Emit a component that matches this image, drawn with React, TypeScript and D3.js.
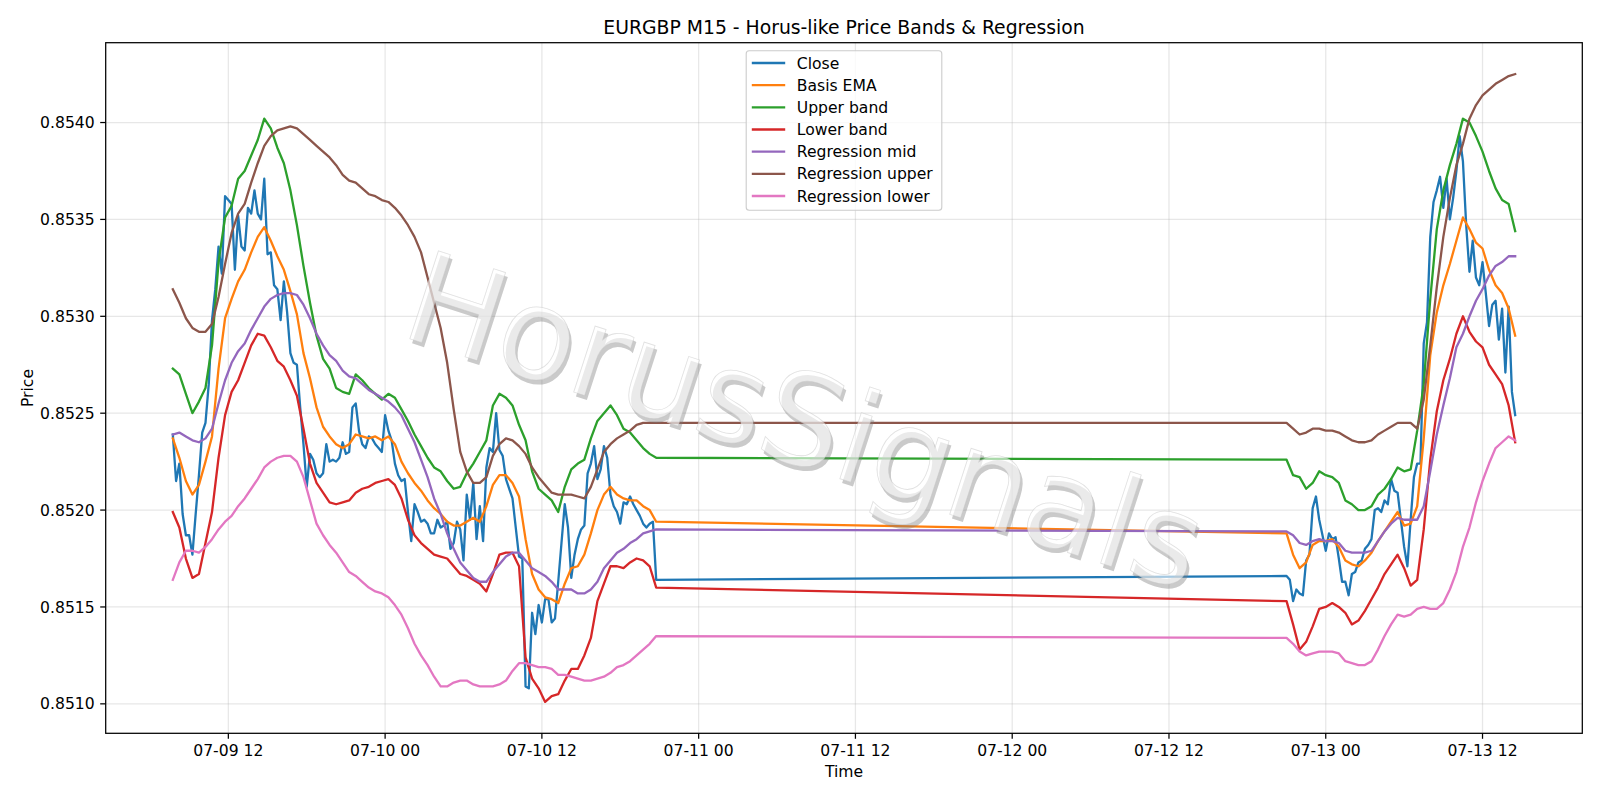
import React from "react";
import * as d3 from "d3";

const TITLE = "EURGBP M15 - Horus-like Price Bands & Regression";
const X_LABEL = "Time";
const Y_LABEL = "Price";
const WATERMARK = "HorusSignals";

// two trading sessions (before / after the weekend gap)
const SESSION_STARTS = ["2020-07-09T07:45:00Z", "2020-07-12T21:00:00Z"];
const CLOSE_STEP_MIN = 15;
const BAND_STEP_MIN = 30;

const X_TICKS = [
  "2020-07-09T12:00:00Z", "2020-07-10T00:00:00Z", "2020-07-10T12:00:00Z",
  "2020-07-11T00:00:00Z", "2020-07-11T12:00:00Z", "2020-07-12T00:00:00Z",
  "2020-07-12T12:00:00Z", "2020-07-13T00:00:00Z", "2020-07-13T12:00:00Z",
];
const Y_TICKS = [0.851, 0.8515, 0.852, 0.8525, 0.853, 0.8535, 0.854];

const CLOSE_PRE = [
  0.85239, 0.85215, 0.85224, 0.85198, 0.85187, 0.85187, 0.85177, 0.85198, 0.85218, 0.85240,
  0.85245, 0.85265, 0.85298, 0.85314, 0.85336, 0.85322, 0.85362, 0.85360, 0.85358, 0.85324,
  0.85352, 0.85336, 0.85334, 0.85356, 0.85353, 0.85365, 0.85353, 0.85350, 0.85371, 0.85332,
  0.85333, 0.85316, 0.85314, 0.85298, 0.85318, 0.85302, 0.85281, 0.85276, 0.85275, 0.85253,
  0.85234, 0.85212, 0.85229, 0.85226, 0.85219, 0.85217, 0.85219, 0.85234, 0.85225, 0.85226,
  0.85225, 0.85227, 0.85235, 0.85229, 0.85230, 0.85253, 0.85255, 0.85241, 0.85234, 0.85232,
  0.85238, 0.85237, 0.85234, 0.85232, 0.85230, 0.85249, 0.85241, 0.85236, 0.85224, 0.85218,
  0.85215, 0.85216, 0.85199, 0.85184, 0.85203, 0.85199, 0.85194, 0.85195, 0.85193, 0.85188,
  0.85188, 0.85195, 0.85191, 0.85192, 0.85194, 0.85180, 0.85183, 0.85194, 0.85190, 0.85174,
  0.85208, 0.85195, 0.85214, 0.85185, 0.85202, 0.85184, 0.85222, 0.85232, 0.85230, 0.85250,
  0.85231, 0.85228, 0.85216, 0.85211, 0.85206, 0.85191, 0.85176, 0.85175, 0.85109, 0.85108,
  0.85147, 0.85136, 0.85151, 0.85142, 0.85154, 0.85154, 0.85142, 0.85144, 0.85163, 0.85183,
  0.85203, 0.85191, 0.85165, 0.85177, 0.85185, 0.85190, 0.85192, 0.85219, 0.85224, 0.85233,
  0.85216, 0.85221, 0.85233, 0.85227, 0.85208, 0.85202, 0.85199, 0.85193, 0.85204, 0.85203,
  0.85207, 0.85203, 0.85200, 0.85197, 0.85193, 0.85191, 0.85193, 0.85194, 0.85164,
];
const CLOSE_POST = [
  0.85166, 0.85164, 0.85153, 0.85159, 0.85157, 0.85156, 0.85174, 0.85177, 0.85201, 0.85207,
  0.85195, 0.85187, 0.85179, 0.85188, 0.85185, 0.85186, 0.85175, 0.85163, 0.85163, 0.85156,
  0.85167, 0.85168, 0.85173, 0.85174, 0.85180, 0.85182, 0.85185, 0.85200, 0.85201, 0.85199,
  0.85205, 0.85203, 0.85216, 0.85210, 0.85209, 0.85195, 0.85181, 0.85171, 0.85195, 0.85217,
  0.85224, 0.85224, 0.85286, 0.85297, 0.85341, 0.85359, 0.85365, 0.85372, 0.85356, 0.85371,
  0.85350, 0.85361, 0.85375, 0.85393, 0.85380, 0.85347, 0.85323, 0.85339, 0.85320, 0.85316,
  0.85328, 0.85312, 0.85295, 0.85306, 0.85308, 0.85288, 0.85304, 0.85271, 0.85305, 0.85261, 0.85249,
];

const EMA_PRE = [
  0.85237, 0.85227, 0.85215, 0.85208, 0.85213, 0.85225, 0.85238, 0.85273, 0.85299, 0.85309,
  0.85318, 0.85324, 0.85333, 0.85341, 0.85346, 0.85339, 0.85331, 0.85324, 0.85313, 0.85301,
  0.85281, 0.85268, 0.85253, 0.85243, 0.85238, 0.85234, 0.85232, 0.85234, 0.85239, 0.85238,
  0.85237, 0.85238, 0.85236, 0.85238, 0.85234, 0.85225, 0.85219, 0.85214, 0.85210, 0.85205,
  0.85201, 0.85198, 0.85194, 0.85192, 0.85192, 0.85194, 0.85196, 0.85194, 0.85202, 0.85213,
  0.85218, 0.85218, 0.85214, 0.85207, 0.85185, 0.85167, 0.85159, 0.85155, 0.85154, 0.85152,
  0.85162, 0.85170, 0.85171, 0.85177, 0.85188, 0.85200, 0.85208, 0.85212, 0.85208, 0.85206,
  0.85205, 0.85205, 0.85202, 0.85200, 0.85194,
];
const EMA_POST = [
  0.85188, 0.85177, 0.85170, 0.85173, 0.85182, 0.85184, 0.85184, 0.85185, 0.85181, 0.85174,
  0.85172, 0.85171, 0.85174, 0.85178, 0.85184, 0.85189, 0.85194, 0.85199, 0.85192, 0.85193,
  0.85202, 0.85237, 0.85280, 0.85302, 0.85316, 0.85327, 0.85339, 0.85351, 0.85345, 0.85338,
  0.85335, 0.85324, 0.85316, 0.85312, 0.85304, 0.85290,
];

const UPPER_PRE = [
  0.85273, 0.85270, 0.85260, 0.85250, 0.85256, 0.85263, 0.85285, 0.85328, 0.85351, 0.85357,
  0.85371, 0.85375, 0.85383, 0.85391, 0.85402, 0.85397, 0.85387, 0.85379, 0.85365, 0.85347,
  0.85326, 0.85307, 0.85290, 0.85278, 0.85273, 0.85263, 0.85261, 0.85260, 0.85270, 0.85267,
  0.85263, 0.85260, 0.85257, 0.85260, 0.85258, 0.85252, 0.85246, 0.85239, 0.85233, 0.85227,
  0.85222, 0.85220, 0.85215, 0.85211, 0.85212, 0.85219, 0.85224, 0.85230, 0.85236, 0.85254,
  0.85260, 0.85258, 0.85254, 0.85244, 0.85236, 0.85220, 0.85211, 0.85208, 0.85205, 0.85199,
  0.85212, 0.85221, 0.85224, 0.85226, 0.85237, 0.85246, 0.85250, 0.85254, 0.85249, 0.85242,
  0.85240, 0.85236, 0.85232, 0.85229, 0.85227,
];
const UPPER_POST = [
  0.85226, 0.85218, 0.85217, 0.85211, 0.85214, 0.85220, 0.85218, 0.85217, 0.85214, 0.85205,
  0.85203, 0.85200, 0.85200, 0.85202, 0.85208, 0.85211, 0.85216, 0.85222, 0.85220, 0.85221,
  0.85241, 0.85265, 0.85309, 0.85345, 0.85365, 0.85378, 0.85389, 0.85402, 0.85400, 0.85393,
  0.85385, 0.85375, 0.85366, 0.85360, 0.85358, 0.85344,
];

const LOWER_PRE = [
  0.85199, 0.85191, 0.85175, 0.85165, 0.85167, 0.85183, 0.85199, 0.85227, 0.85249, 0.85261,
  0.85267, 0.85276, 0.85285, 0.85291, 0.85290, 0.85284, 0.85277, 0.85274, 0.85267, 0.85259,
  0.85242, 0.85224, 0.85214, 0.85209, 0.85204, 0.85203, 0.85204, 0.85205, 0.85209, 0.85211,
  0.85212, 0.85214, 0.85215, 0.85216, 0.85213, 0.85206, 0.85195, 0.85187, 0.85183, 0.85180,
  0.85177, 0.85176, 0.85175, 0.85171, 0.85167, 0.85166, 0.85164, 0.85162, 0.85158, 0.85167,
  0.85177, 0.85178, 0.85178, 0.85171, 0.85124, 0.85113, 0.85108, 0.85101, 0.85104, 0.85105,
  0.85112, 0.85118, 0.85118, 0.85125, 0.85134, 0.85153, 0.85162, 0.85171, 0.85171, 0.85170,
  0.85173, 0.85175, 0.85174, 0.85171, 0.85160,
];
const LOWER_POST = [
  0.85153, 0.85141, 0.85128, 0.85132, 0.85140, 0.85149, 0.85150, 0.85152, 0.85150, 0.85147,
  0.85141, 0.85143, 0.85148, 0.85154, 0.85160, 0.85167, 0.85172, 0.85177, 0.85170, 0.85161,
  0.85164, 0.85190, 0.85226, 0.85251, 0.85267, 0.85278, 0.85291, 0.85300, 0.85292, 0.85287,
  0.85284, 0.85275, 0.85270, 0.85265, 0.85254, 0.85235,
];

const MID_PRE = [
  0.85239, 0.85240, 0.85238, 0.85236, 0.85235, 0.85237, 0.85242, 0.85255, 0.85267, 0.85276,
  0.85282, 0.85286, 0.85293, 0.85299, 0.85305, 0.85309, 0.85311, 0.85312, 0.85312, 0.85311,
  0.85306, 0.85299, 0.85291, 0.85285, 0.85280, 0.85277, 0.85272, 0.85269, 0.85268, 0.85265,
  0.85262, 0.85260, 0.85258, 0.85256, 0.85253, 0.85249, 0.85242, 0.85235, 0.85226, 0.85217,
  0.85206, 0.85198, 0.85188, 0.85180, 0.85173, 0.85169, 0.85165, 0.85163, 0.85163, 0.85168,
  0.85172, 0.85176, 0.85178, 0.85178, 0.85174, 0.85170, 0.85168, 0.85166, 0.85163, 0.85159,
  0.85159, 0.85159, 0.85157, 0.85157, 0.85159, 0.85163, 0.85170, 0.85174, 0.85178, 0.85180,
  0.85183, 0.85185, 0.85188, 0.85189, 0.85190,
];
const MID_POST = [
  0.85189, 0.85187, 0.85183, 0.85182, 0.85184, 0.85185, 0.85184, 0.85184, 0.85183, 0.85179,
  0.85178, 0.85178, 0.85178, 0.85179, 0.85184, 0.85189, 0.85193, 0.85196, 0.85195, 0.85195,
  0.85195, 0.85202, 0.85220, 0.85239, 0.85254, 0.85268, 0.85284, 0.85291, 0.85300, 0.85308,
  0.85314, 0.85321, 0.85326, 0.85328, 0.85331, 0.85331,
];

const REG_UPPER_PRE = [
  0.85314, 0.85307, 0.85299, 0.85294, 0.85292, 0.85292, 0.85296, 0.85310, 0.85327, 0.85343,
  0.85353, 0.85358, 0.85369, 0.85379, 0.85388, 0.85393, 0.85396, 0.85397, 0.85398, 0.85397,
  0.85394, 0.85391, 0.85388, 0.85385, 0.85382, 0.85378, 0.85373, 0.85370, 0.85369, 0.85366,
  0.85363, 0.85362, 0.85360, 0.85359, 0.85356, 0.85352, 0.85347, 0.85341, 0.85333, 0.85320,
  0.85307, 0.85294, 0.85276, 0.85252, 0.85230, 0.85220, 0.85214, 0.85214, 0.85217, 0.85228,
  0.85234, 0.85237, 0.85236, 0.85233, 0.85229, 0.85222, 0.85217, 0.85213, 0.85209, 0.85208,
  0.85208, 0.85208, 0.85207, 0.85206, 0.85212, 0.85221, 0.85230, 0.85234, 0.85237, 0.85239,
  0.85241, 0.85244, 0.85245, 0.85245, 0.85245,
];
const REG_UPPER_POST = [
  0.85245, 0.85242, 0.85239, 0.85240, 0.85242, 0.85242, 0.85241, 0.85241, 0.85240, 0.85238,
  0.85236, 0.85235, 0.85235, 0.85236, 0.85239, 0.85241, 0.85243, 0.85245, 0.85245, 0.85245,
  0.85242, 0.85257, 0.85285, 0.85315, 0.85341, 0.85361, 0.85378, 0.85389, 0.85402, 0.85409,
  0.85414, 0.85417, 0.85420, 0.85422, 0.85424, 0.85425,
];

const REG_LOWER_PRE = [
  0.85164, 0.85173, 0.85179, 0.85179, 0.85178, 0.85181, 0.85185, 0.85190, 0.85194, 0.85197,
  0.85202, 0.85206, 0.85211, 0.85216, 0.85222, 0.85225, 0.85227, 0.85228, 0.85228, 0.85225,
  0.85217, 0.85205, 0.85193, 0.85187, 0.85182, 0.85178, 0.85173, 0.85168, 0.85166, 0.85163,
  0.85160, 0.85158, 0.85157, 0.85155, 0.85151, 0.85146, 0.85139, 0.85131, 0.85125, 0.85120,
  0.85114, 0.85109, 0.85109, 0.85111, 0.85112, 0.85112, 0.85110, 0.85109, 0.85109, 0.85109,
  0.85110, 0.85112, 0.85117, 0.85121, 0.85121, 0.85120, 0.85119, 0.85119, 0.85118, 0.85115,
  0.85115, 0.85114, 0.85113, 0.85112, 0.85112, 0.85113, 0.85114, 0.85116, 0.85119, 0.85120,
  0.85122, 0.85125, 0.85128, 0.85131, 0.85135,
];
const REG_LOWER_POST = [
  0.85134, 0.85131, 0.85127, 0.85125, 0.85126, 0.85127, 0.85127, 0.85127, 0.85126, 0.85122,
  0.85121, 0.85120, 0.85120, 0.85122, 0.85128, 0.85135, 0.85141, 0.85146, 0.85145, 0.85146,
  0.85149, 0.85150, 0.85149, 0.85149, 0.85152, 0.85159, 0.85168, 0.85181, 0.85191, 0.85204,
  0.85215, 0.85224, 0.85232, 0.85235, 0.85238, 0.85236,
];

const SERIES_NAMES = ["Close", "Basis EMA", "Upper band", "Lower band", "Regression mid", "Regression upper", "Regression lower"];
const SERIES_COLORS = ["#1f77b4", "#ff7f0e", "#2ca02c", "#d62728", "#9467bd", "#8c564b", "#e377c2"];
const SERIES_DATA = [
  [CLOSE_PRE, CLOSE_POST, CLOSE_STEP_MIN],
  [EMA_PRE, EMA_POST, BAND_STEP_MIN],
  [UPPER_PRE, UPPER_POST, BAND_STEP_MIN],
  [LOWER_PRE, LOWER_POST, BAND_STEP_MIN],
  [MID_PRE, MID_POST, BAND_STEP_MIN],
  [REG_UPPER_PRE, REG_UPPER_POST, BAND_STEP_MIN],
  [REG_LOWER_PRE, REG_LOWER_POST, BAND_STEP_MIN],
] as [number[], number[], number][];

type P = { t: number; v: number };

const FONT = "'DejaVu Sans', sans-serif";

export default function App() {
  const W = 1600, H = 800;
  const L = 105.7, R = 1582.3, T = 42.7, B = 733.3;
  const starts = SESSION_STARTS.map((s) => Date.parse(s));

  const series = SERIES_DATA.map(([pre, post, step], k) => {
    const pts: P[] = [
      ...pre.map((v, i) => ({ t: starts[0] + i * step * 60000, v })),
      ...post.map((v, i) => ({ t: starts[1] + i * step * 60000, v })),
    ];
    return { name: SERIES_NAMES[k], color: SERIES_COLORS[k], pts };
  });
  const all = series.flatMap((s) => s.pts);
  const [t0, t1] = d3.extent(all, (p) => p.t) as [number, number];
  const [v0, v1] = d3.extent(all, (p) => p.v) as [number, number];
  const tp = (t1 - t0) * 0.05, vp = (v1 - v0) * 0.05;
  const x = d3.scaleUtc().domain([t0 - tp, t1 + tp]).range([L, R]);
  const y = d3.scaleLinear().domain([v0 - vp, v1 + vp]).range([B, T]);
  const line = d3.line<P>().x((p) => x(p.t)).y((p) => y(p.v));
  const fmt = d3.utcFormat("%m-%d %H");
  const xt = X_TICKS.map((s) => new Date(s));

  const tickLen = 5.5;
  const fs = 15.6;
  const legX = (L + R) / 2 - 97.8;
  const legY = 50.7;
  const rowH = 22.17;

  return (
    <svg width={W} height={H} viewBox={`0 0 ${W} ${H}`} style={{ display: "block", background: "#fff" }} fontFamily={FONT}>
      <style>{"body{margin:0}"}</style>
      <rect x={0} y={0} width={W} height={H} fill="#fff" />
      {/* grid */}
      <g stroke="#b0b0b0" strokeOpacity={0.3} strokeWidth={1.25}>
        {xt.map((d, i) => (
          <line key={"gx" + i} x1={x(d)} x2={x(d)} y1={T} y2={B} />
        ))}
        {Y_TICKS.map((v, i) => (
          <line key={"gy" + i} x1={L} x2={R} y1={y(v)} y2={y(v)} />
        ))}
      </g>
      {/* series */}
      <g fill="none" strokeWidth={2.3} strokeLinejoin="round" strokeLinecap="square">
        {series.map((s) => (
          <path key={s.name} d={line(s.pts) || ""} stroke={s.color} />
        ))}
      </g>
      {/* watermark */}
      <g transform="translate(398,335) rotate(18)" fontSize={127}>
        <text x={3.5} y={3.5} fill="#7a7a7a" fillOpacity={0.4}>{WATERMARK}</text>
        <text x={0} y={0} fill="#ffffff" fillOpacity={0.6} stroke="#c4c4c4" strokeOpacity={0.5} strokeWidth={0.8}>{WATERMARK}</text>
      </g>
      {/* axes frame */}
      <rect x={L} y={T} width={R - L} height={B - T} fill="none" stroke="#000" strokeWidth={1.25} />
      {/* ticks and labels */}
      <g fontSize={fs} fill="#000">
        {xt.map((d, i) => (
          <g key={"xt" + i}>
            <line x1={x(d)} x2={x(d)} y1={B} y2={B + tickLen} stroke="#000" strokeWidth={1.25} />
            <text x={x(d)} y={756} textAnchor="middle">{fmt(d)}</text>
          </g>
        ))}
        {Y_TICKS.map((v, i) => (
          <g key={"yt" + i}>
            <line x1={L - tickLen} x2={L} y1={y(v)} y2={y(v)} stroke="#000" strokeWidth={1.25} />
            <text x={L - tickLen - 5.5} y={y(v)} dy="0.36em" textAnchor="end">{v.toFixed(4)}</text>
          </g>
        ))}
        <text x={(L + R) / 2} y={777} textAnchor="middle">{X_LABEL}</text>
        <text transform={`translate(32.5,${(T + B) / 2}) rotate(-90)`} textAnchor="middle">{Y_LABEL}</text>
      </g>
      {/* title */}
      <text x={(L + R) / 2} y={33.5} textAnchor="middle" fontSize={18.8} fill="#000">{TITLE}</text>
      {/* legend */}
      <g>
        <rect x={legX} y={legY} width={195.6} height={159.6} rx={3} ry={3} fill="#fff" fillOpacity={0.8} stroke="#cccccc" strokeWidth={1.1} />
        {series.map((s, i) => (
          <g key={"lg" + i}>
            <line x1={legX + 5.6} x2={legX + 39} y1={legY + 12.3 + i * rowH} y2={legY + 12.3 + i * rowH} stroke={s.color} strokeWidth={2.3} />
            <text x={legX + 50.6} y={legY + 12.3 + i * rowH} dy="0.36em" fontSize={fs} fill="#000">{s.name}</text>
          </g>
        ))}
      </g>
    </svg>
  );
}
